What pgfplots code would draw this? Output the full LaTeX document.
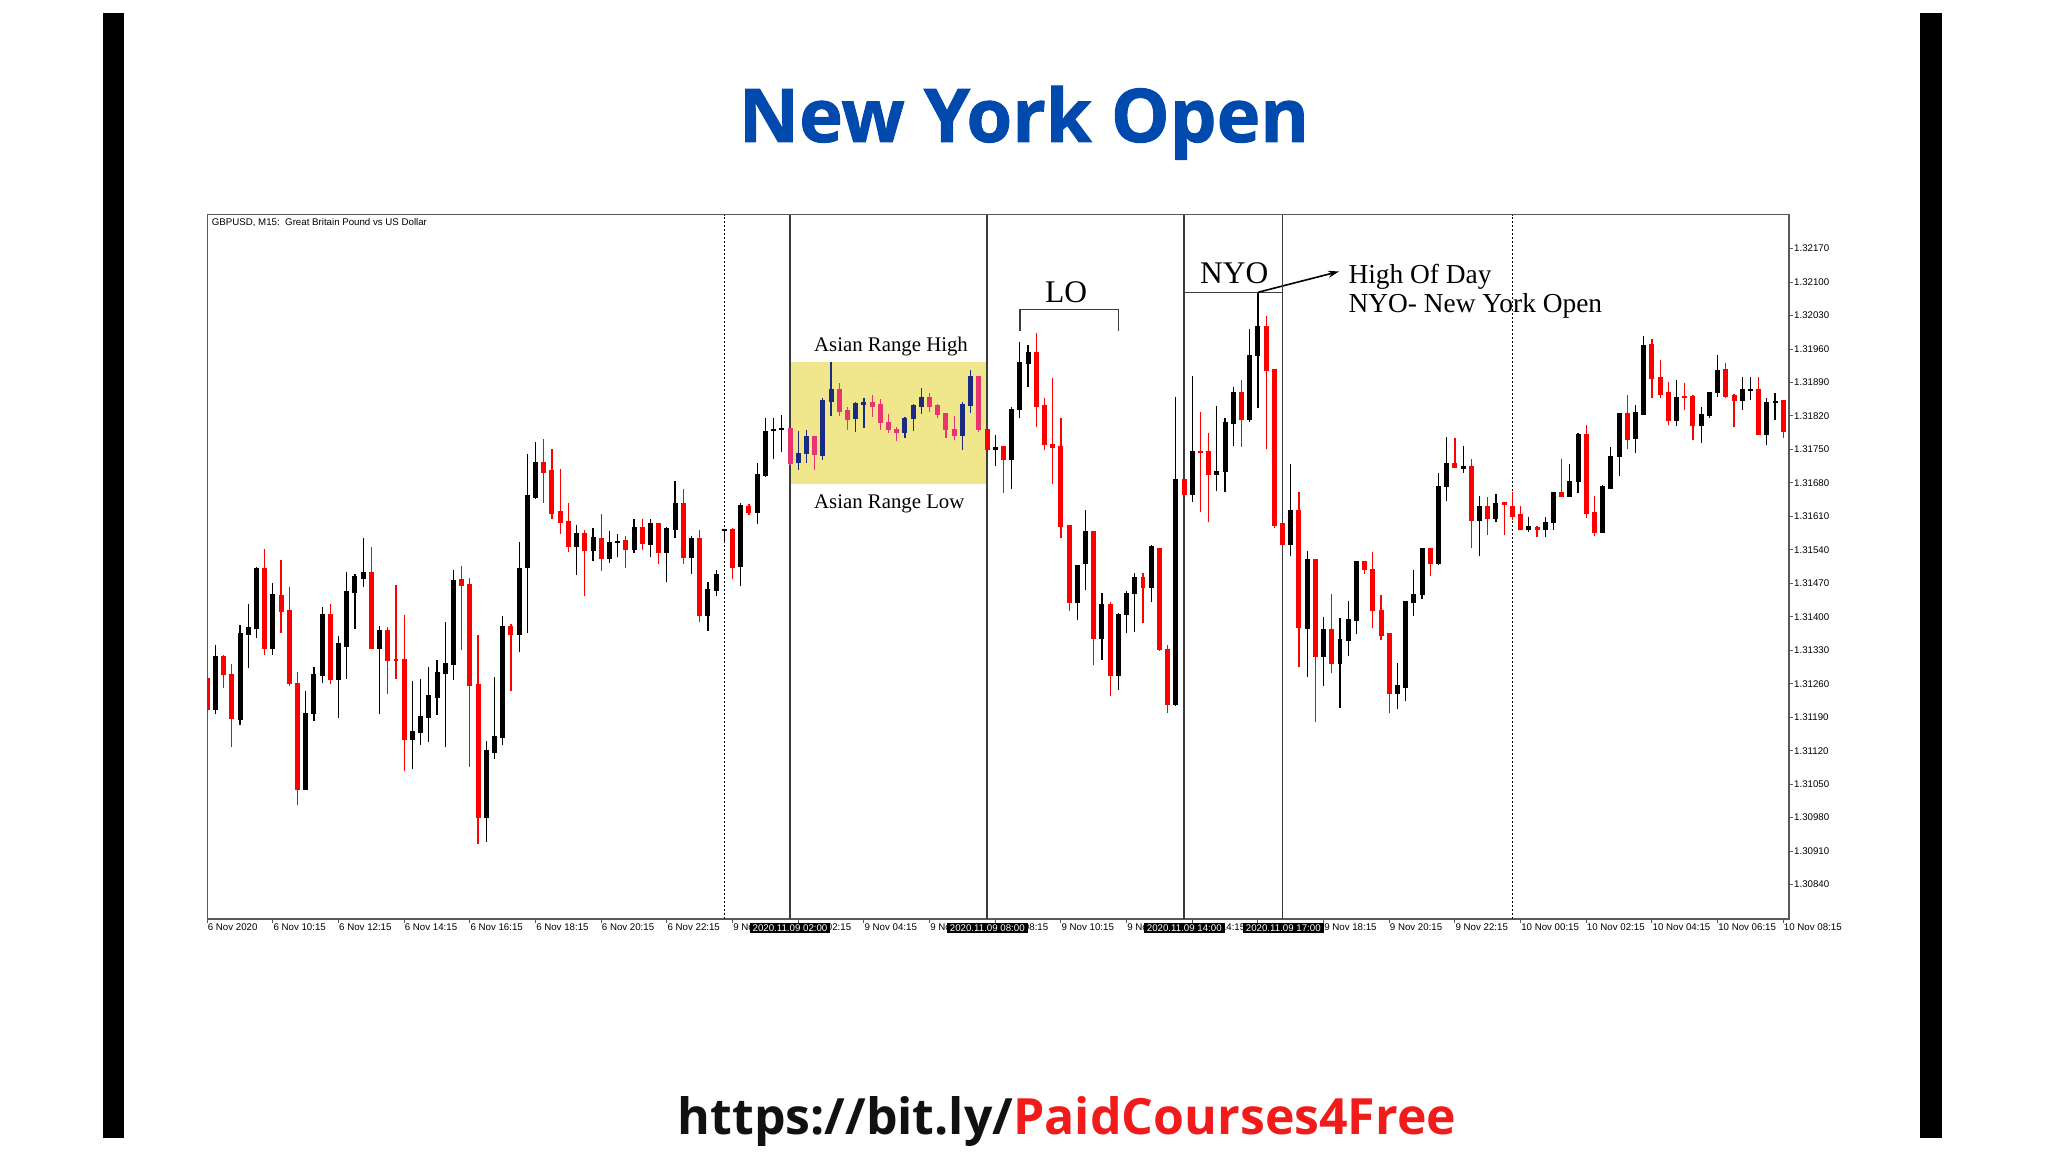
\documentclass[border=0pt]{standalone}
\usepackage{fontspec}
\setmainfont{Liberation Serif}
\setsansfont{Liberation Sans}
\newfontfamily\osans{Open Sans}[BoldFeatures={FakeBold=1.2}]
\newfontfamily\osansurl{Open Sans}
\usepackage{pgfplots}
\pgfplotsset{compat=1.18}
\usepackage{pgfplotstable}
\usetikzlibrary{arrows.meta}

\definecolor{titleblue}{HTML}{0049AD}
\definecolor{urlred}{HTML}{F21B1B}
\definecolor{urlblack}{HTML}{111111}
\definecolor{bullc}{HTML}{000000}
\definecolor{bearc}{HTML}{FF0000}
\definecolor{bulla}{HTML}{1B2A82}
\definecolor{beara}{HTML}{E8356F}
\definecolor{khakic}{HTML}{F0E68C}
\definecolor{tline}{HTML}{3C3C3C}

\newcommand\mtf{\sffamily\fontsize{9.7}{10.5}\selectfont}

% GBPUSD M15, bar index, OHLC, kind: 0 up, 1 down, 2 up in range, 3 down in range
\pgfplotstableread{
i O H L C k
0 1.31270 1.31275 1.31202 1.31206 1
1 1.31206 1.31341 1.31197 1.31316 0
2 1.31316 1.31320 1.31252 1.31280 1
3 1.31279 1.31301 1.31127 1.31188 1
4 1.31185 1.31382 1.31174 1.31364 0
5 1.31364 1.31427 1.31293 1.31378 0
6 1.31376 1.31505 1.31355 1.31500 0
7 1.31500 1.31541 1.31320 1.31334 1
8 1.31334 1.31470 1.31320 1.31447 0
9 1.31444 1.31519 1.31366 1.31411 1
10 1.31412 1.31463 1.31256 1.31260 1
11 1.31261 1.31284 1.31007 1.31040 1
12 1.31040 1.31244 1.31038 1.31198 0
13 1.31197 1.31294 1.31183 1.31279 0
14 1.31277 1.31420 1.31261 1.31404 0
15 1.31404 1.31427 1.31260 1.31270 1
16 1.31270 1.31359 1.31189 1.31343 0
17 1.31339 1.31493 1.31270 1.31453 0
18 1.31451 1.31490 1.31374 1.31484 0
19 1.31481 1.31564 1.31463 1.31493 0
20 1.31493 1.31545 1.31333 1.31334 1
21 1.31334 1.31380 1.31197 1.31371 0
22 1.31371 1.31378 1.31238 1.31308 1
23 1.31310 1.31467 1.31270 1.31308 1
24 1.31310 1.31403 1.31077 1.31144 1
25 1.31144 1.31265 1.31081 1.31160 0
26 1.31159 1.31270 1.31131 1.31192 0
27 1.31190 1.31296 1.31139 1.31235 0
28 1.31232 1.31309 1.31195 1.31284 0
29 1.31282 1.31389 1.31127 1.31302 0
30 1.31301 1.31498 1.31268 1.31475 0
31 1.31477 1.31506 1.31331 1.31465 1
32 1.31467 1.31482 1.31086 1.31256 1
33 1.31258 1.31362 1.30925 1.30980 1
34 1.30980 1.31141 1.30930 1.31120 0
35 1.31116 1.31275 1.31103 1.31150 0
36 1.31148 1.31401 1.31131 1.31380 0
37 1.31380 1.31385 1.31244 1.31364 1
38 1.31364 1.31556 1.31326 1.31500 0
39 1.31503 1.31741 1.31367 1.31653 0
40 1.31649 1.31766 1.31646 1.31722 0
41 1.31722 1.31771 1.31637 1.31702 1
42 1.31705 1.31751 1.31604 1.31617 1
43 1.31619 1.31709 1.31573 1.31597 1
44 1.31599 1.31637 1.31536 1.31547 1
45 1.31547 1.31592 1.31488 1.31573 0
46 1.31573 1.31582 1.31444 1.31538 1
47 1.31538 1.31585 1.31517 1.31566 0
48 1.31564 1.31614 1.31495 1.31522 1
49 1.31522 1.31580 1.31513 1.31556 0
50 1.31555 1.31573 1.31526 1.31557 0
51 1.31559 1.31568 1.31503 1.31541 1
52 1.31541 1.31605 1.31533 1.31587 0
53 1.31587 1.31605 1.31540 1.31554 1
54 1.31552 1.31605 1.31525 1.31594 0
55 1.31594 1.31597 1.31510 1.31535 1
56 1.31535 1.31588 1.31472 1.31585 0
57 1.31583 1.31683 1.31564 1.31637 0
58 1.31637 1.31667 1.31511 1.31525 1
59 1.31525 1.31568 1.31490 1.31564 0
60 1.31564 1.31582 1.31390 1.31402 1
61 1.31402 1.31472 1.31371 1.31456 0
62 1.31455 1.31498 1.31444 1.31489 0
63 1.31580 1.31584 1.31554 1.31582 0
64 1.31583 1.31585 1.31479 1.31504 1
65 1.31505 1.31637 1.31465 1.31633 0
66 1.31630 1.31636 1.31613 1.31618 1
67 1.31619 1.31721 1.31594 1.31698 0
68 1.31695 1.31815 1.31693 1.31787 0
69 1.31789 1.31815 1.31730 1.31791 0
70 1.31792 1.31822 1.31745 1.31793 0
71 1.31793 1.31794 1.31718 1.31720 3
72 1.31722 1.31789 1.31707 1.31742 2
73 1.31742 1.31791 1.31722 1.31777 2
74 1.31777 1.31777 1.31707 1.31739 3
75 1.31738 1.31857 1.31728 1.31853 2
76 1.31851 1.31932 1.31819 1.31876 2
77 1.31876 1.31890 1.31820 1.31830 3
78 1.31831 1.31839 1.31791 1.31813 3
79 1.31815 1.31850 1.31787 1.31846 2
80 1.31845 1.31857 1.31794 1.31848 2
81 1.31848 1.31864 1.31818 1.31841 3
82 1.31843 1.31855 1.31791 1.31806 3
83 1.31806 1.31825 1.31784 1.31791 3
84 1.31792 1.31797 1.31767 1.31785 3
85 1.31785 1.31817 1.31775 1.31815 2
86 1.31815 1.31845 1.31789 1.31842 2
87 1.31841 1.31878 1.31825 1.31859 2
88 1.31858 1.31869 1.31829 1.31841 3
89 1.31841 1.31845 1.31815 1.31824 3
90 1.31825 1.31827 1.31773 1.31791 3
91 1.31792 1.31819 1.31770 1.31780 3
92 1.31780 1.31850 1.31748 1.31843 2
93 1.31843 1.31917 1.31827 1.31903 2
94 1.31903 1.31903 1.31787 1.31792 3
95 1.31792 1.31792 1.31749 1.31750 1
96 1.31751 1.31780 1.31715 1.31754 0
97 1.31756 1.31756 1.31658 1.31729 1
98 1.31729 1.31838 1.31667 1.31834 0
99 1.31834 1.31975 1.31815 1.31931 0
100 1.31930 1.31968 1.31880 1.31952 0
101 1.31952 1.31994 1.31796 1.31841 1
102 1.31841 1.31857 1.31749 1.31761 1
103 1.31761 1.31899 1.31678 1.31754 1
104 1.31756 1.31815 1.31564 1.31589 1
105 1.31590 1.31592 1.31413 1.31430 1
106 1.31430 1.31508 1.31394 1.31508 0
107 1.31512 1.31623 1.31456 1.31578 0
108 1.31578 1.31578 1.31299 1.31355 1
109 1.31355 1.31449 1.31310 1.31425 0
110 1.31425 1.31432 1.31235 1.31277 1
111 1.31277 1.31407 1.31247 1.31404 0
112 1.31404 1.31455 1.31367 1.31449 0
113 1.31448 1.31492 1.31368 1.31483 0
114 1.31483 1.31492 1.31387 1.31462 1
115 1.31462 1.31550 1.31430 1.31547 0
116 1.31543 1.31543 1.31329 1.31331 1
117 1.31332 1.31341 1.31199 1.31216 1
118 1.31216 1.31859 1.31214 1.31686 0
119 1.31686 1.31688 1.31655 1.31657 1
120 1.31656 1.31904 1.31641 1.31745 0
121 1.31745 1.31829 1.31620 1.31743 1
122 1.31745 1.31784 1.31599 1.31697 1
123 1.31697 1.31841 1.31664 1.31704 0
124 1.31704 1.31815 1.31660 1.31806 0
125 1.31805 1.31880 1.31757 1.31869 0
126 1.31869 1.31895 1.31756 1.31813 1
127 1.31813 1.32002 1.31808 1.31946 0
128 1.31946 1.32078 1.31836 1.32007 0
129 1.32007 1.32029 1.31752 1.31916 1
130 1.31918 1.31918 1.31585 1.31592 1
131 1.31595 1.31597 1.31550 1.31552 1
132 1.31552 1.31720 1.31527 1.31622 0
133 1.31622 1.31660 1.31296 1.31378 1
134 1.31376 1.31538 1.31275 1.31519 0
135 1.31519 1.31519 1.31181 1.31317 1
136 1.31317 1.31399 1.31256 1.31373 0
137 1.31373 1.31448 1.31282 1.31303 1
138 1.31303 1.31397 1.31209 1.31352 0
139 1.31350 1.31434 1.31318 1.31395 0
140 1.31393 1.31515 1.31364 1.31515 0
141 1.31515 1.31515 1.31490 1.31499 1
142 1.31499 1.31536 1.31376 1.31413 1
143 1.31414 1.31446 1.31352 1.31362 1
144 1.31364 1.31364 1.31199 1.31240 1
145 1.31240 1.31303 1.31207 1.31256 0
146 1.31253 1.31432 1.31223 1.31432 0
147 1.31430 1.31497 1.31402 1.31446 0
148 1.31446 1.31543 1.31437 1.31543 0
149 1.31543 1.31543 1.31486 1.31512 1
150 1.31512 1.31701 1.31508 1.31672 0
151 1.31672 1.31777 1.31643 1.31720 0
152 1.31720 1.31773 1.31711 1.31713 1
153 1.31711 1.31757 1.31701 1.31714 0
154 1.31714 1.31731 1.31543 1.31602 1
155 1.31601 1.31653 1.31527 1.31630 0
156 1.31630 1.31651 1.31571 1.31606 1
157 1.31606 1.31657 1.31599 1.31637 0
158 1.31639 1.31639 1.31571 1.31636 1
159 1.31630 1.31660 1.31603 1.31610 1
160 1.31613 1.31632 1.31582 1.31583 1
161 1.31583 1.31608 1.31578 1.31589 0
162 1.31587 1.31590 1.31566 1.31583 1
163 1.31582 1.31608 1.31566 1.31597 0
164 1.31597 1.31662 1.31582 1.31660 0
165 1.31660 1.31731 1.31651 1.31651 1
166 1.31651 1.31720 1.31651 1.31683 0
167 1.31683 1.31785 1.31658 1.31782 0
168 1.31782 1.31801 1.31606 1.31616 1
169 1.31618 1.31653 1.31569 1.31577 1
170 1.31577 1.31676 1.31577 1.31672 0
171 1.31669 1.31756 1.31669 1.31736 0
172 1.31736 1.31827 1.31695 1.31826 0
173 1.31826 1.31864 1.31752 1.31772 1
174 1.31773 1.31843 1.31742 1.31827 0
175 1.31824 1.31987 1.31822 1.31968 0
176 1.31970 1.31980 1.31857 1.31899 1
177 1.31900 1.31938 1.31857 1.31866 1
178 1.31869 1.31892 1.31801 1.31810 1
179 1.31810 1.31895 1.31799 1.31859 0
180 1.31860 1.31888 1.31832 1.31858 1
181 1.31860 1.31864 1.31770 1.31800 1
182 1.31800 1.31838 1.31763 1.31822 0
183 1.31821 1.31869 1.31815 1.31869 0
184 1.31869 1.31947 1.31860 1.31915 0
185 1.31916 1.31931 1.31858 1.31860 1
186 1.31862 1.31866 1.31798 1.31852 1
187 1.31852 1.31902 1.31832 1.31876 0
188 1.31874 1.31901 1.31853 1.31876 0
189 1.31876 1.31902 1.31780 1.31782 1
190 1.31782 1.31857 1.31759 1.31848 0
191 1.31848 1.31869 1.31812 1.31850 0
192 1.31852 1.31852 1.31775 1.31787 1
}\candles

\begin{document}
\begin{tikzpicture}[x=1pt,y=1pt]
\path[use as bounding box] (0pt,0pt) rectangle (2048pt,1152pt);
\fill[white] (0pt,0pt) rectangle (2048pt,1152pt);

% page furniture, y measured downwards from the top
\begin{scope}[yshift=1152pt, yscale=-1]
  \fill[black] (103.2,13) rectangle (124.1,1137.5);
  \fill[black] (1920,13) rectangle (1942,1137.5);
  \node[anchor=base, inner sep=0pt, text=titleblue, font=\osans\bfseries\fontsize{74}{82}\selectfont] at (1024,142) {New York Open};
  \node[anchor=base, inner sep=0pt, font=\osansurl\bfseries\fontsize{50}{56}\selectfont] at (1067,1134)
    {\textcolor{urlblack}{https://bit.ly/}\textcolor{urlred}{PaidCourses4Free}};

  \node[anchor=west, inner sep=0pt, font=\mtf] at (211.7,222.7) {GBPUSD, M15:\ \ Great Britain Pound vs US Dollar};
  \node[anchor=base west, inner sep=0pt, font=\fontsize{20.8}{24}\selectfont] at (814,351.7) {Asian Range High};
  \node[anchor=base west, inner sep=0pt, font=\fontsize{20.8}{24}\selectfont] at (814,508.3) {Asian Range Low};
  \node[anchor=base west, inner sep=0pt, font=\fontsize{31.5}{36}\selectfont] at (1045,302.7) {LO};
  \node[anchor=base west, inner sep=0pt, font=\fontsize{31.5}{36}\selectfont] at (1200,283.3) {NYO};
  \node[anchor=base west, inner sep=0pt, font=\fontsize{27.4}{30}\selectfont] at (1348.3,283.3) {High Of Day};
  \node[anchor=base west, inner sep=0pt, font=\fontsize{27.4}{30}\selectfont] at (1348.3,312.7) {NYO- New York Open};

  \draw[tline, line width=1.3pt] (1020,330.7) -- (1020,309.3) -- (1118.3,309.3) -- (1118.3,330.7);
  \draw[tline, line width=1.3pt] (1184.3,292.3) -- (1282.7,292.3);
  \draw[-{Stealth[length=11pt,width=7pt]}, line width=1.6pt] (1258,292.3) -- (1339,271.5);
\end{scope}

\begin{axis}[
  at={(207.2pt,233pt)}, anchor=south west,
  scale only axis, width=1581.8pt, height=704.3pt,
  xmin=0, xmax=192.7, ymin=1.30768, ymax=1.32241,
  axis line style={draw=black!65, line width=1.2pt},
  xtick={0,8,...,192},
  xticklabels={6 Nov 2020,6 Nov 10:15,6 Nov 12:15,6 Nov 14:15,6 Nov 16:15,6 Nov 18:15,6 Nov 20:15,6 Nov 22:15,
    9 Nov 00:15,9 Nov 02:15,9 Nov 04:15,9 Nov 06:15,9 Nov 08:15,9 Nov 10:15,9 Nov 12:15,9 Nov 14:15,
    9 Nov 16:15,9 Nov 18:15,9 Nov 20:15,9 Nov 22:15,10 Nov 00:15,10 Nov 02:15,10 Nov 04:15,10 Nov 06:15,10 Nov 08:15},
  ytick={1.30840,1.30910,1.30980,1.31050,1.31120,1.31190,1.31260,1.31330,1.31400,1.31470,
    1.31540,1.31610,1.31680,1.31750,1.31820,1.31890,1.31960,1.32030,1.32100,1.32170},
  yticklabels={1.30840,1.30910,1.30980,1.31050,1.31120,1.31190,1.31260,1.31330,1.31400,1.31470,
    1.31540,1.31610,1.31680,1.31750,1.31820,1.31890,1.31960,1.32030,1.32100,1.32170},
  tick align=outside, major tick length=4pt,
  tick style={draw=black!65, line width=1pt},
  xtick pos=left, ytick pos=right, yticklabel pos=right,
  ticklabel style={font=\mtf, inner sep=0pt},
  xticklabel style={anchor=north west, xshift=0.5pt, yshift=-1pt},
  yticklabel style={anchor=west, xshift=1pt},
]
  % Asian range box and session lines
  \fill[khakic] (axis cs:71,1.31677) rectangle (axis cs:95,1.31933);
  \pgfplotsinvokeforeach{71,95,119,131}{
    \draw[tline, line width=1.1pt] (axis cs:#1,1.30768) -- (axis cs:#1,1.32241);}
  \pgfplotsinvokeforeach{63,159}{
    \draw[black, line width=1pt, dash pattern=on 2pt off 2pt] (axis cs:#1,1.30768) -- (axis cs:#1,1.32241);}

  % one wick and one body per bar, values taken from the table
  \pgfplotsinvokeforeach{0,...,192}{
    \pgfplotstablegetelem{#1}{O}\of\candles \let\vo\pgfplotsretval
    \pgfplotstablegetelem{#1}{H}\of\candles \let\vh\pgfplotsretval
    \pgfplotstablegetelem{#1}{L}\of\candles \let\vl\pgfplotsretval
    \pgfplotstablegetelem{#1}{C}\of\candles \let\vc\pgfplotsretval
    \pgfplotstablegetelem{#1}{k}\of\candles
    \ifcase\pgfplotsretval\relax \def\candcol{bullc}\or \def\candcol{bearc}\or \def\candcol{bulla}\else \def\candcol{beara}\fi
    \pgfmathsetmacro\xa{#1-0.23}
    \pgfmathsetmacro\xb{#1+0.23}
    \edef\next{%
      \noexpand\addplot[draw=\candcol, line width=1.2pt] coordinates {(#1,\vl) (#1,\vh)};
      \noexpand\addplot[draw=\candcol, fill=\candcol, line width=1.2pt]
        coordinates {(\xa,\vo) (\xb,\vo) (\xb,\vc) (\xa,\vc)} -- cycle;}
    \next
  }
\end{axis}

% crosshair time labels on the time axis
\begin{scope}[yshift=1152pt, yscale=-1]
  \foreach \xx/\tt in {790/02:00, 987.3/08:00, 1184.3/14:00, 1283.3/17:00}
    {\node[anchor=north, fill=black, text=white, font=\mtf, inner xsep=3pt, inner ysep=1.6pt] at (\xx,922.8) {2020.11.09 \tt};}
\end{scope}
\end{tikzpicture}
\end{document}
